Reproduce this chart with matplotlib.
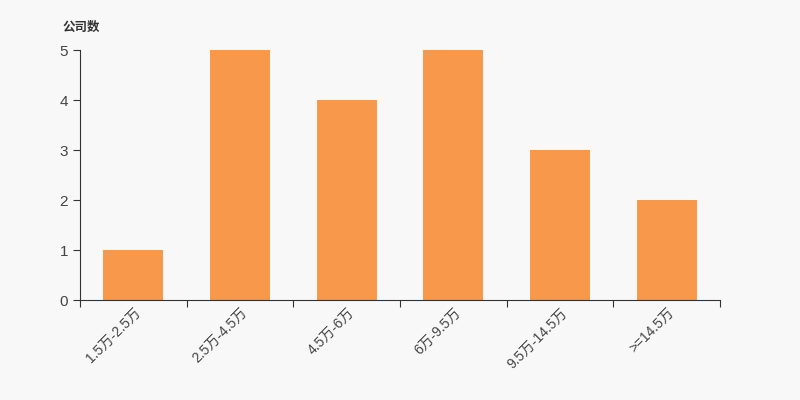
import numpy as np
import matplotlib.pyplot as plt

plt.rcParams['font.family'] = ['Liberation Sans', 'Noto Sans CJK SC']

categories = ['1.5万-2.5万', '2.5万-4.5万', '4.5万-6万', '6万-9.5万', '9.5万-14.5万', '>=14.5万']
counts = [1, 5, 4, 5, 3, 2]

bg = '#f8f8f8'
fig = plt.figure(figsize=(8, 4), dpi=100, facecolor=bg)
ax = fig.add_axes([0.1, 0.25, 0.8, 0.625], facecolor=bg)

x = np.arange(len(categories))
ax.bar(x, counts, width=0.5625, color='#f7984a')

ax.set_xlim(-0.5, len(categories) - 0.5)
ax.set_ylim(0, 5)
ax.set_yticks(range(0, 6))

# ticks at band boundaries, labels centered under bars
ax.set_xticks(np.arange(-0.5, len(categories)), minor=False)
ax.set_xticklabels([])
ax.set_xticks(x, minor=True)
ax.set_xticklabels(categories, minor=True, rotation=45, ha='right', va='top',
                   rotation_mode='anchor', fontsize=10, color='#444444')
ax.tick_params(axis='x', which='minor', length=0, pad=4)
ax.tick_params(axis='x', which='major', length=5, color='#333333')
ax.tick_params(axis='y', length=5, color='#333333', labelsize=11, labelcolor='#444444')

for s in ['top', 'right']:
    ax.spines[s].set_visible(False)
for s in ['left', 'bottom']:
    ax.spines[s].set_color('#333333')

fig.text(0.078, 0.932, '公司数', fontsize=9, fontweight='bold', color='#333333',
         va='center', family=['Noto Sans CJK SC'])

fig.savefig('out.png', dpi=100, facecolor=bg)
